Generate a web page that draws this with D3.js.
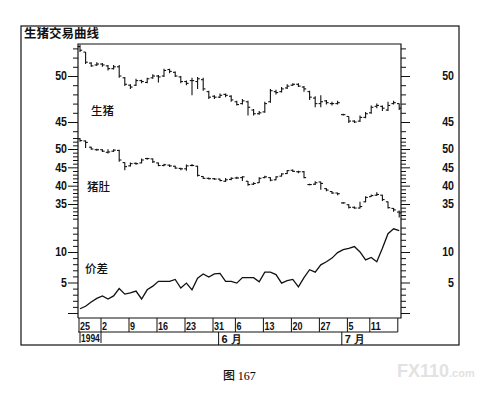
<!DOCTYPE html>
<html>
<head>
<meta charset="utf-8">
<script src="https://cdn.jsdelivr.net/npm/d3@7"></script>
<style>
    body { margin: 0; background: #fff; }
    svg { display: block; }
    .frame { fill: none; stroke: #111; stroke-width: 1.2; }
    .bar { stroke: #111; stroke-width: 1.1; fill: none; }
    .spread { stroke: #111; stroke-width: 1.3; fill: none; }
    .axis path, .axis line { stroke: #111; stroke-width: 1; }
    .axis text, .date text {
        font-family: "Liberation Sans", "DejaVu Sans Condensed", sans-serif;
        font-weight: bold; font-size: 12px; fill: #111;
    }
    .cjk { font-family: "Noto Sans CJK SC", sans-serif; font-weight: 500; fill: #111; }
</style>
</head>
<body>
<svg id="chart" width="501" height="402"></svg>
<script>
// trading day index: 0 = 1994-04-25 ... 58 = 1994-07-18
var days = d3.range(1, 59);

// 生猪 (live hogs) daily bars
var hogOpen = [53.2, 52.6, 51.4, 51.2, 51.3, 51.1, 50.8, 51.0, 49.8, 49.0,
    49.0, 49.5, 49.3, 49.8, 50.0, 50.0, 50.7, 50.4, 49.9, 49.4,
    49.5, 49.4, 49.6, 48.3, 47.8, 47.7, 48.0, 47.8, 47.2, 47.0,
    47.2, 46.3, 45.9, 46.1, 47.2, 48.3, 48.3, 48.7, 49.0, 49.1,
    48.8, 48.3, 47.6, 47.0, 47.3, 47.0, 47.0, 45.8, 45.6, 45.1,
    45.1, 45.5, 46.0, 46.7, 46.7, 46.3, 47.0, 47.0];
var hogHigh = [53.4, 52.6, 51.5, 51.5, 51.4, 51.2, 51.2, 51.2, 49.9, 49.1,
    49.7, 49.6, 49.8, 50.2, 50.1, 50.8, 50.8, 50.5, 50.0, 49.5,
    49.8, 49.9, 49.8, 48.4, 47.9, 48.1, 48.1, 47.9, 47.3, 47.5,
    47.3, 46.4, 46.2, 47.2, 48.6, 48.5, 48.8, 49.1, 49.2, 49.2,
    48.9, 48.4, 47.8, 47.9, 47.4, 47.2, 47.3, 45.9, 45.6, 45.2,
    45.7, 46.1, 46.8, 47.0, 46.8, 47.2, 47.3, 47.0];
var hogLow = [52.6, 51.3, 51.0, 51.1, 51.0, 50.6, 50.7, 49.8, 48.9, 48.6,
    48.9, 49.2, 49.2, 49.7, 49.3, 49.9, 50.3, 49.9, 49.2, 49.0,
    47.9, 48.6, 48.4, 47.5, 47.5, 47.6, 47.7, 47.2, 46.8, 46.9,
    45.7, 45.7, 45.8, 46.0, 47.1, 48.0, 48.2, 48.6, 48.9, 48.8,
    48.3, 47.4, 46.6, 46.6, 46.9, 46.8, 46.9, 45.7, 44.9, 44.9,
    45.0, 45.4, 45.9, 46.5, 46.2, 46.2, 46.9, 46.3];
var hogClose = [52.8, 51.5, 51.1, 51.3, 51.2, 50.8, 51.0, 50.0, 49.1, 48.8,
    49.5, 49.4, 49.7, 50.0, 49.9, 50.6, 50.5, 50.0, 49.4, 49.2,
    49.5, 49.7, 48.6, 47.7, 47.7, 47.9, 47.9, 47.4, 46.9, 47.3,
    46.6, 45.9, 46.0, 47.0, 48.4, 48.2, 48.6, 48.9, 49.1, 48.9,
    48.6, 47.7, 47.0, 47.2, 47.1, 47.0, 47.1, 45.8, 45.1, 45.0,
    45.5, 45.9, 46.6, 46.8, 46.5, 46.8, 47.1, 46.5];

// 猪肚 (pork bellies) daily bars
var bellyOpen = [52.8, 52.2, 50.5, 49.8, 49.8, 49.1, 49.4, 49.6, 46.3, 45.4,
    46.1, 46.2, 47.4, 47.3, 46.2, 45.5, 45.6, 45.3, 44.7, 44.6,
    45.5, 45.3, 42.5, 42.0, 41.9, 41.8, 41.2, 41.7, 42.1, 42.2,
    41.2, 40.4, 40.8, 42.2, 42.2, 41.6, 42.6, 43.3, 44.2, 43.8,
    43.8, 40.3, 40.4, 41.0, 39.2, 38.4, 38.0, 35.3, 34.8, 34.1,
    33.9, 35.6, 37.0, 37.4, 37.4, 35.6, 33.8, 32.8];
var bellyHigh = [53.0, 52.3, 50.6, 50.1, 49.9, 49.9, 49.9, 49.8, 46.4, 46.3,
    46.3, 47.4, 47.6, 47.4, 46.3, 46.0, 45.8, 45.4, 44.9, 45.8,
    45.9, 45.4, 42.6, 42.2, 42.1, 41.9, 42.1, 42.3, 42.4, 42.6,
    41.3, 40.9, 42.3, 42.7, 42.3, 42.6, 43.4, 44.3, 44.4, 44.1,
    44.0, 40.5, 41.2, 41.1, 39.3, 38.5, 38.1, 35.5, 34.9, 34.3,
    35.6, 37.1, 37.6, 38.2, 37.5, 35.7, 33.9, 33.2];
var bellyLow = [52.0, 50.3, 49.8, 49.5, 49.2, 48.8, 49.2, 46.5, 44.2, 45.2,
    45.7, 46.1, 47.1, 46.2, 45.3, 45.3, 45.1, 44.6, 44.2, 44.1,
    45.3, 42.5, 41.8, 41.7, 41.6, 41.2, 41.0, 41.5, 41.8, 41.3,
    40.0, 40.2, 40.7, 42.0, 41.2, 41.5, 42.5, 43.2, 43.7, 43.4,
    42.0, 40.1, 40.2, 38.9, 38.5, 37.7, 37.4, 35.1, 33.8, 33.7,
    33.8, 35.5, 37.0, 37.2, 35.8, 33.8, 32.9, 31.3];
var bellyClose = [52.3, 51.8, 50.0, 49.8, 49.4, 49.2, 49.7, 47.0, 45.2, 46.0,
    46.0, 47.0, 47.4, 46.5, 45.5, 45.7, 45.4, 44.8, 44.6, 45.4,
    45.5, 42.8, 42.0, 41.9, 41.8, 41.4, 41.6, 42.0, 42.1, 42.4,
    40.3, 40.6, 42.0, 42.4, 41.5, 42.4, 43.2, 44.1, 43.9, 43.8,
    42.2, 40.3, 40.8, 40.6, 38.8, 38.0, 37.8, 35.3, 34.1, 33.9,
    34.3, 36.8, 37.3, 37.6, 36.2, 34.0, 33.4, 32.6];

// 价差 (hog - belly spread)
var spread = [0.7, 1.1, 1.8, 2.4, 2.8, 2.3, 2.8, 4.0, 3.1, 3.3,
    3.6, 2.3, 3.8, 4.4, 5.2, 5.2, 5.2, 5.5, 4.1, 4.9,
    3.8, 5.7, 6.4, 5.9, 6.4, 6.5, 5.2, 5.2, 4.9, 5.8,
    5.8, 5.8, 5.1, 6.7, 6.7, 6.3, 4.9, 5.3, 5.5, 4.3,
    5.8, 7.1, 6.7, 7.9, 8.4, 9.0, 9.9, 10.4, 10.6, 10.9,
    10.0, 8.7, 9.1, 8.4, 10.6, 13.0, 13.8, 13.5];

// date axis
var weekStarts = [0, 5, 10, 15, 20, 25, 29, 34, 39, 44, 49, 53];
var weekLabels = ['25', '2', '9', '16', '23', '31', '6', '13', '20', '27', '5', '11'];
var monthStarts = [26, 48];
var monthLabels = ['6 月', '7 月'];
var yearLabel = '1994';
var lastDay = 58;

// axis ticks per panel
var hogTicks = d3.range(44, 54);
var hogMajor = [45, 50];
var bellyTicks = d3.range(31, 54);
var bellyMajor = [35, 40, 45, 50];
var spreadTicks = d3.range(0, 15);
var spreadMajor = [0, 5, 10];
var spreadLabeled = [5, 10];

// squeeze digits to look like the condensed face of the original
function narrow(sel, w) {
    sel.each(function() {
        var t = d3.select(this), s = t.text();
        if (s.length) t.attr('textLength', s.length * w).attr('lengthAdjust', 'spacingAndGlyphs');
    });
}

/** Class drawing the hog / belly chart. */
class HogChart {
    constructor() {
        this.svg = d3.select('#chart');
        this.left = 78;
        this.right = 401;
        this.top = 44;
        this.bottom = 318;
        this.x = d3.scaleLinear().domain([0, lastDay]).range([73, 397.8]);
        this.yHog = d3.scaleLinear().domain([45, 50]).range([122, 76]);
        this.yBelly = d3.scaleLinear().domain([35, 50]).range([204, 149]);
        this.ySpread = d3.scaleLinear().domain([0, 10]).range([313, 252]);
    }

    /**
     * Draw one panel's ticks on both sides
     */
    drawTicks(y, ticks, major, labeled) {
        var minor = ticks.filter(function(t) { return major.indexOf(t) == -1; });
        var fmt = function(d) { return labeled.indexOf(d) != -1 ? d : ''; };

        this.svg.append('g').attr('class', 'axis')
            .attr('transform', 'translate(' + this.left + ',0)')
            .call(d3.axisLeft(y).tickValues(minor).tickSize(5).tickFormat(''))
            .select('.domain').remove();
        var l = this.svg.append('g').attr('class', 'axis')
            .attr('transform', 'translate(' + this.left + ',0)')
            .call(d3.axisLeft(y).tickValues(major).tickSize(10).tickPadding(1).tickFormat(fmt));
        l.select('.domain').remove();
        narrow(l.selectAll('text'), 5.9);

        this.svg.append('g').attr('class', 'axis')
            .attr('transform', 'translate(' + this.right + ',0)')
            .call(d3.axisRight(y).tickValues(minor).tickSize(5).tickFormat(''))
            .select('.domain').remove();
        var r = this.svg.append('g').attr('class', 'axis')
            .attr('transform', 'translate(' + this.right + ',0)')
            .call(d3.axisRight(y).tickValues(major).tickSize(9).tickFormat(fmt));
        r.select('.domain').remove();
        r.selectAll('text').attr('x', 53).attr('text-anchor', 'end');
        narrow(r.selectAll('text'), 5.9);
    }

    /**
     * Draw open/high/low/close bars
     */
    drawBars(y, o, h, l, c) {
        var x = this.x;
        var g = this.svg.append('g').attr('class', 'bar');
        days.forEach(function(d, k) {
            var cx = x(d) + 1.4;
            g.append('line').attr('x1', cx).attr('x2', cx).attr('y1', y(h[k])).attr('y2', y(l[k]));
            g.append('line').attr('x1', cx - 2.2).attr('x2', cx).attr('y1', y(o[k])).attr('y2', y(o[k]));
            g.append('line').attr('x1', cx).attr('x2', cx + 2.2).attr('y1', y(c[k])).attr('y2', y(c[k]));
        });
    }

    drawSpread() {
        var x = this.x, y = this.ySpread;
        var line = d3.line()
            .x(function(d) { return x(d) + 1.4; })
            .y(function(d, k) { return y(spread[k]); });
        this.svg.append('path').datum(days).attr('class', 'spread').attr('d', line);
    }

    drawDateAxis() {
        var x = this.x, left = this.left;
        var g = this.svg.append('g').attr('class', 'date');
        var row1 = 332, row2 = 345;
        var px = function(i) { return Math.max(left + 1, x(i)); };

        g.append('line').attr('x1', left).attr('x2', x(lastDay)).attr('y1', row1).attr('y2', row1)
            .attr('stroke', '#111');
        g.append('line').attr('x1', x(lastDay)).attr('x2', x(lastDay))
            .attr('y1', this.bottom).attr('y2', row1).attr('stroke', '#111');

        g.selectAll('line.week').data(weekStarts).enter().append('line')
            .attr('class', 'week')
            .attr('x1', px).attr('x2', px)
            .attr('y1', this.bottom).attr('y2', row1).attr('stroke', '#111');
        var wt = g.selectAll('text.week').data(weekStarts).enter().append('text')
            .attr('class', 'week')
            .attr('x', function(d) { return px(d) + 1; })
            .attr('y', row1 - 2.5)
            .style('font-size', '11.5px')
            .text(function(d, k) { return weekLabels[k]; });
        narrow(wt, 5);

        // year box
        g.append('line').attr('x1', left + 2).attr('x2', left + 2).attr('y1', row1).attr('y2', row2 - 2)
            .attr('stroke', '#111');
        g.append('line').attr('x1', x(weekStarts[1])).attr('x2', x(weekStarts[1]))
            .attr('y1', row1).attr('y2', row2 - 2).attr('stroke', '#111');
        var yt = g.append('text').attr('x', left + 3).attr('y', row2 - 3)
            .style('font-size', '11.5px').text(yearLabel);
        narrow(yt, 4.7);

        g.selectAll('line.month').data(monthStarts).enter().append('line')
            .attr('class', 'month')
            .attr('x1', x).attr('x2', x).attr('y1', row1).attr('y2', row2).attr('stroke', '#111');
        g.selectAll('text.month').data(monthStarts).enter().append('text')
            .attr('class', 'cjk month')
            .attr('x', function(d) { return x(d) + 3; })
            .attr('y', row2 - 2.5)
            .style('font-size', '11px')
            .text(function(d, k) { return monthLabels[k]; });
    }

    drawFrame() {
        this.svg.append('rect').attr('class', 'frame')
            .attr('x', 21).attr('y', 26).attr('width', 438).attr('height', 319);
        this.svg.append('path').attr('class', 'frame')
            .attr('d', 'M' + this.left + ',' + this.bottom + 'V' + this.top + 'H' + this.right + 'V' + this.bottom + 'H' + this.left);
    }

    drawText() {
        var s = this.svg;
        s.append('text').attr('class', 'cjk').attr('x', 24).attr('y', 38)
            .style('font-size', '12.5px').style('font-weight', 'bold').text('生猪交易曲线');
        s.append('text').attr('class', 'cjk').attr('x', 91).attr('y', 115)
            .style('font-size', '11.5px').text('生猪');
        s.append('text').attr('class', 'cjk').attr('x', 87).attr('y', 191)
            .style('font-size', '11.5px').text('猪肚');
        s.append('text').attr('class', 'cjk').attr('x', 85).attr('y', 273)
            .style('font-size', '11.5px').text('价差');

        var cap = s.append('text').attr('x', 223).attr('y', 380).style('font-size', '12px');
        cap.append('tspan').attr('class', 'cjk').text('图 ');
        cap.append('tspan').style('font-family', '"Liberation Serif", serif').text('167');

        var wm = s.append('text').attr('x', 397).attr('y', 377).attr('fill', '#e2e2e2')
            .style('font-family', '"Liberation Sans", sans-serif').style('font-weight', 'bold');
        wm.append('tspan').style('font-size', '18px').text('FX110');
        wm.append('tspan').style('font-size', '11px').text('.com');
    }

    draw() {
        this.drawTicks(this.yHog, hogTicks, hogMajor, hogMajor);
        this.drawTicks(this.yBelly, bellyTicks, bellyMajor, bellyMajor);
        this.drawTicks(this.ySpread, spreadTicks, spreadMajor, spreadLabeled);
        this.drawBars(this.yHog, hogOpen, hogHigh, hogLow, hogClose);
        this.drawBars(this.yBelly, bellyOpen, bellyHigh, bellyLow, bellyClose);
        this.drawSpread();
        this.drawFrame();
        this.drawDateAxis();
        this.drawText();
    }
}

new HogChart().draw();
</script>
</body>
</html>
